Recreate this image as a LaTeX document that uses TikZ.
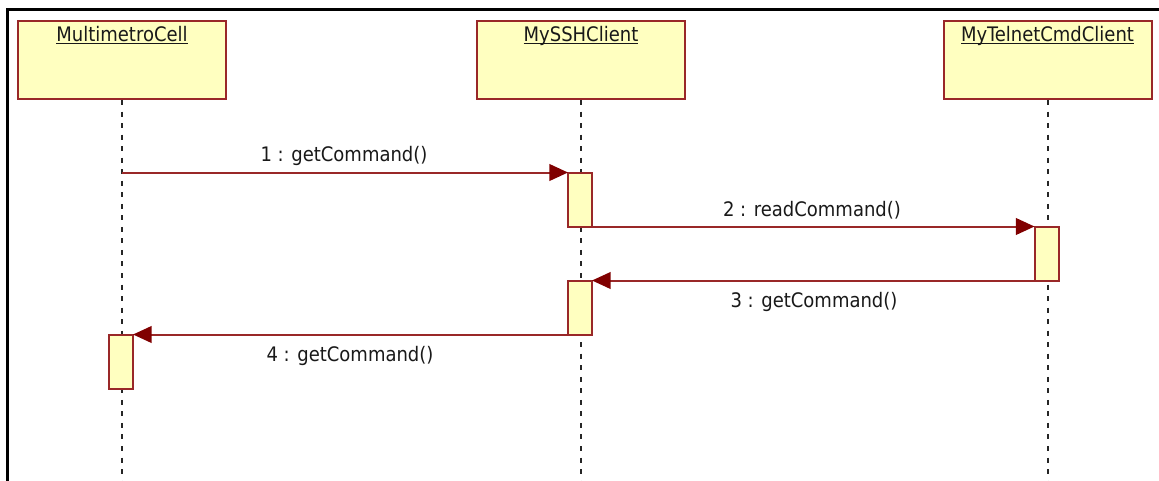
\documentclass[tikz,border=0pt]{standalone}
\usepackage{fontspec}
\setmainfont{DejaVu Sans Condensed}
\usetikzlibrary{arrows.meta}
\definecolor{umlred}{RGB}{153,40,40}
\definecolor{umlhead}{RGB}{128,0,0}
\definecolor{umlfill}{RGB}{255,255,192}

\begin{document}
\begin{tikzpicture}[x=0.75pt,y=-0.75pt,
  every node/.style={font=\fontsize{15}{18}\selectfont},
  objbox/.style={draw=umlred,line width=1.5pt,fill=umlfill,minimum width=156pt,minimum height=58.5pt,inner sep=0pt},
  actbox/.style={draw=umlred,line width=1.5pt,fill=umlfill,minimum width=18pt,minimum height=40.5pt,inner sep=0pt,outer sep=0pt},
  lifeline/.style={line width=1.8pt,dash pattern=on 3.75pt off 4.9pt,black!85},
  msg/.style={umlred,line width=1.5pt,-{Triangle[length=14pt,width=12.5pt,color=umlhead]}},
  objname/.style={inner sep=0pt,text=black!90}]
  \useasboundingbox (0,0) rectangle (1159,481);
  \draw [line width=2.25pt] (7.5,481) -- (7.5,9.5) -- (1159,9.5);
  \node [objbox] (mc) at (122,60) {};
  \node [objbox] (ssh) at (581,60) {};
  \node [objbox] (tel) at (1047.5,60) {};
  \node [objname] (mct) at (122,43) {\underline{\smash{MultimetroCell}}};
  \node [objname] (ssht) at (581,43) {\underline{\smash{MySSHClient}}};
  \node [objname] (telt) at (1047.5,43) {\underline{\smash{MyTelnetCmdClient}}};
  \coordinate (mcend) at (122,481);
  \coordinate (sshend) at (581,481);
  \coordinate (telend) at (1048,481);
  \draw [lifeline] (mc.south) -- (mcend);
  \draw [lifeline] (ssh.south) -- (sshend);
  \draw [lifeline] (telend |- tel.south) -- (telend);
  \node [actbox] (ssha) at (580,199.5) {};
  \node [actbox] (tela) at (1046.5,253.5) {};
  \node [actbox] (sshb) at (580,307.5) {};
  \node [actbox] (mca) at (121,361.5) {};
  \coordinate (m1) at (mc.south |- ssha.north west);
  \draw [msg] (m1) -- (ssha.north west);
  \draw [msg] (ssha.south east) -- (tela.north west);
  \draw [msg] (tela.south west) -- (sshb.north east);
  \draw [msg] (sshb.south west) -- (mca.north east);
  \node [objname] (l1) at (344,156) {1 : getCommand()};
  \node [objname] (l2) at (812,210) {2 : readCommand()};
  \node [objname] (l3) at (814,302) {3 : getCommand()};
  \node [objname] (l4) at (350,356) {4 : getCommand()};
\end{tikzpicture}
\end{document}
